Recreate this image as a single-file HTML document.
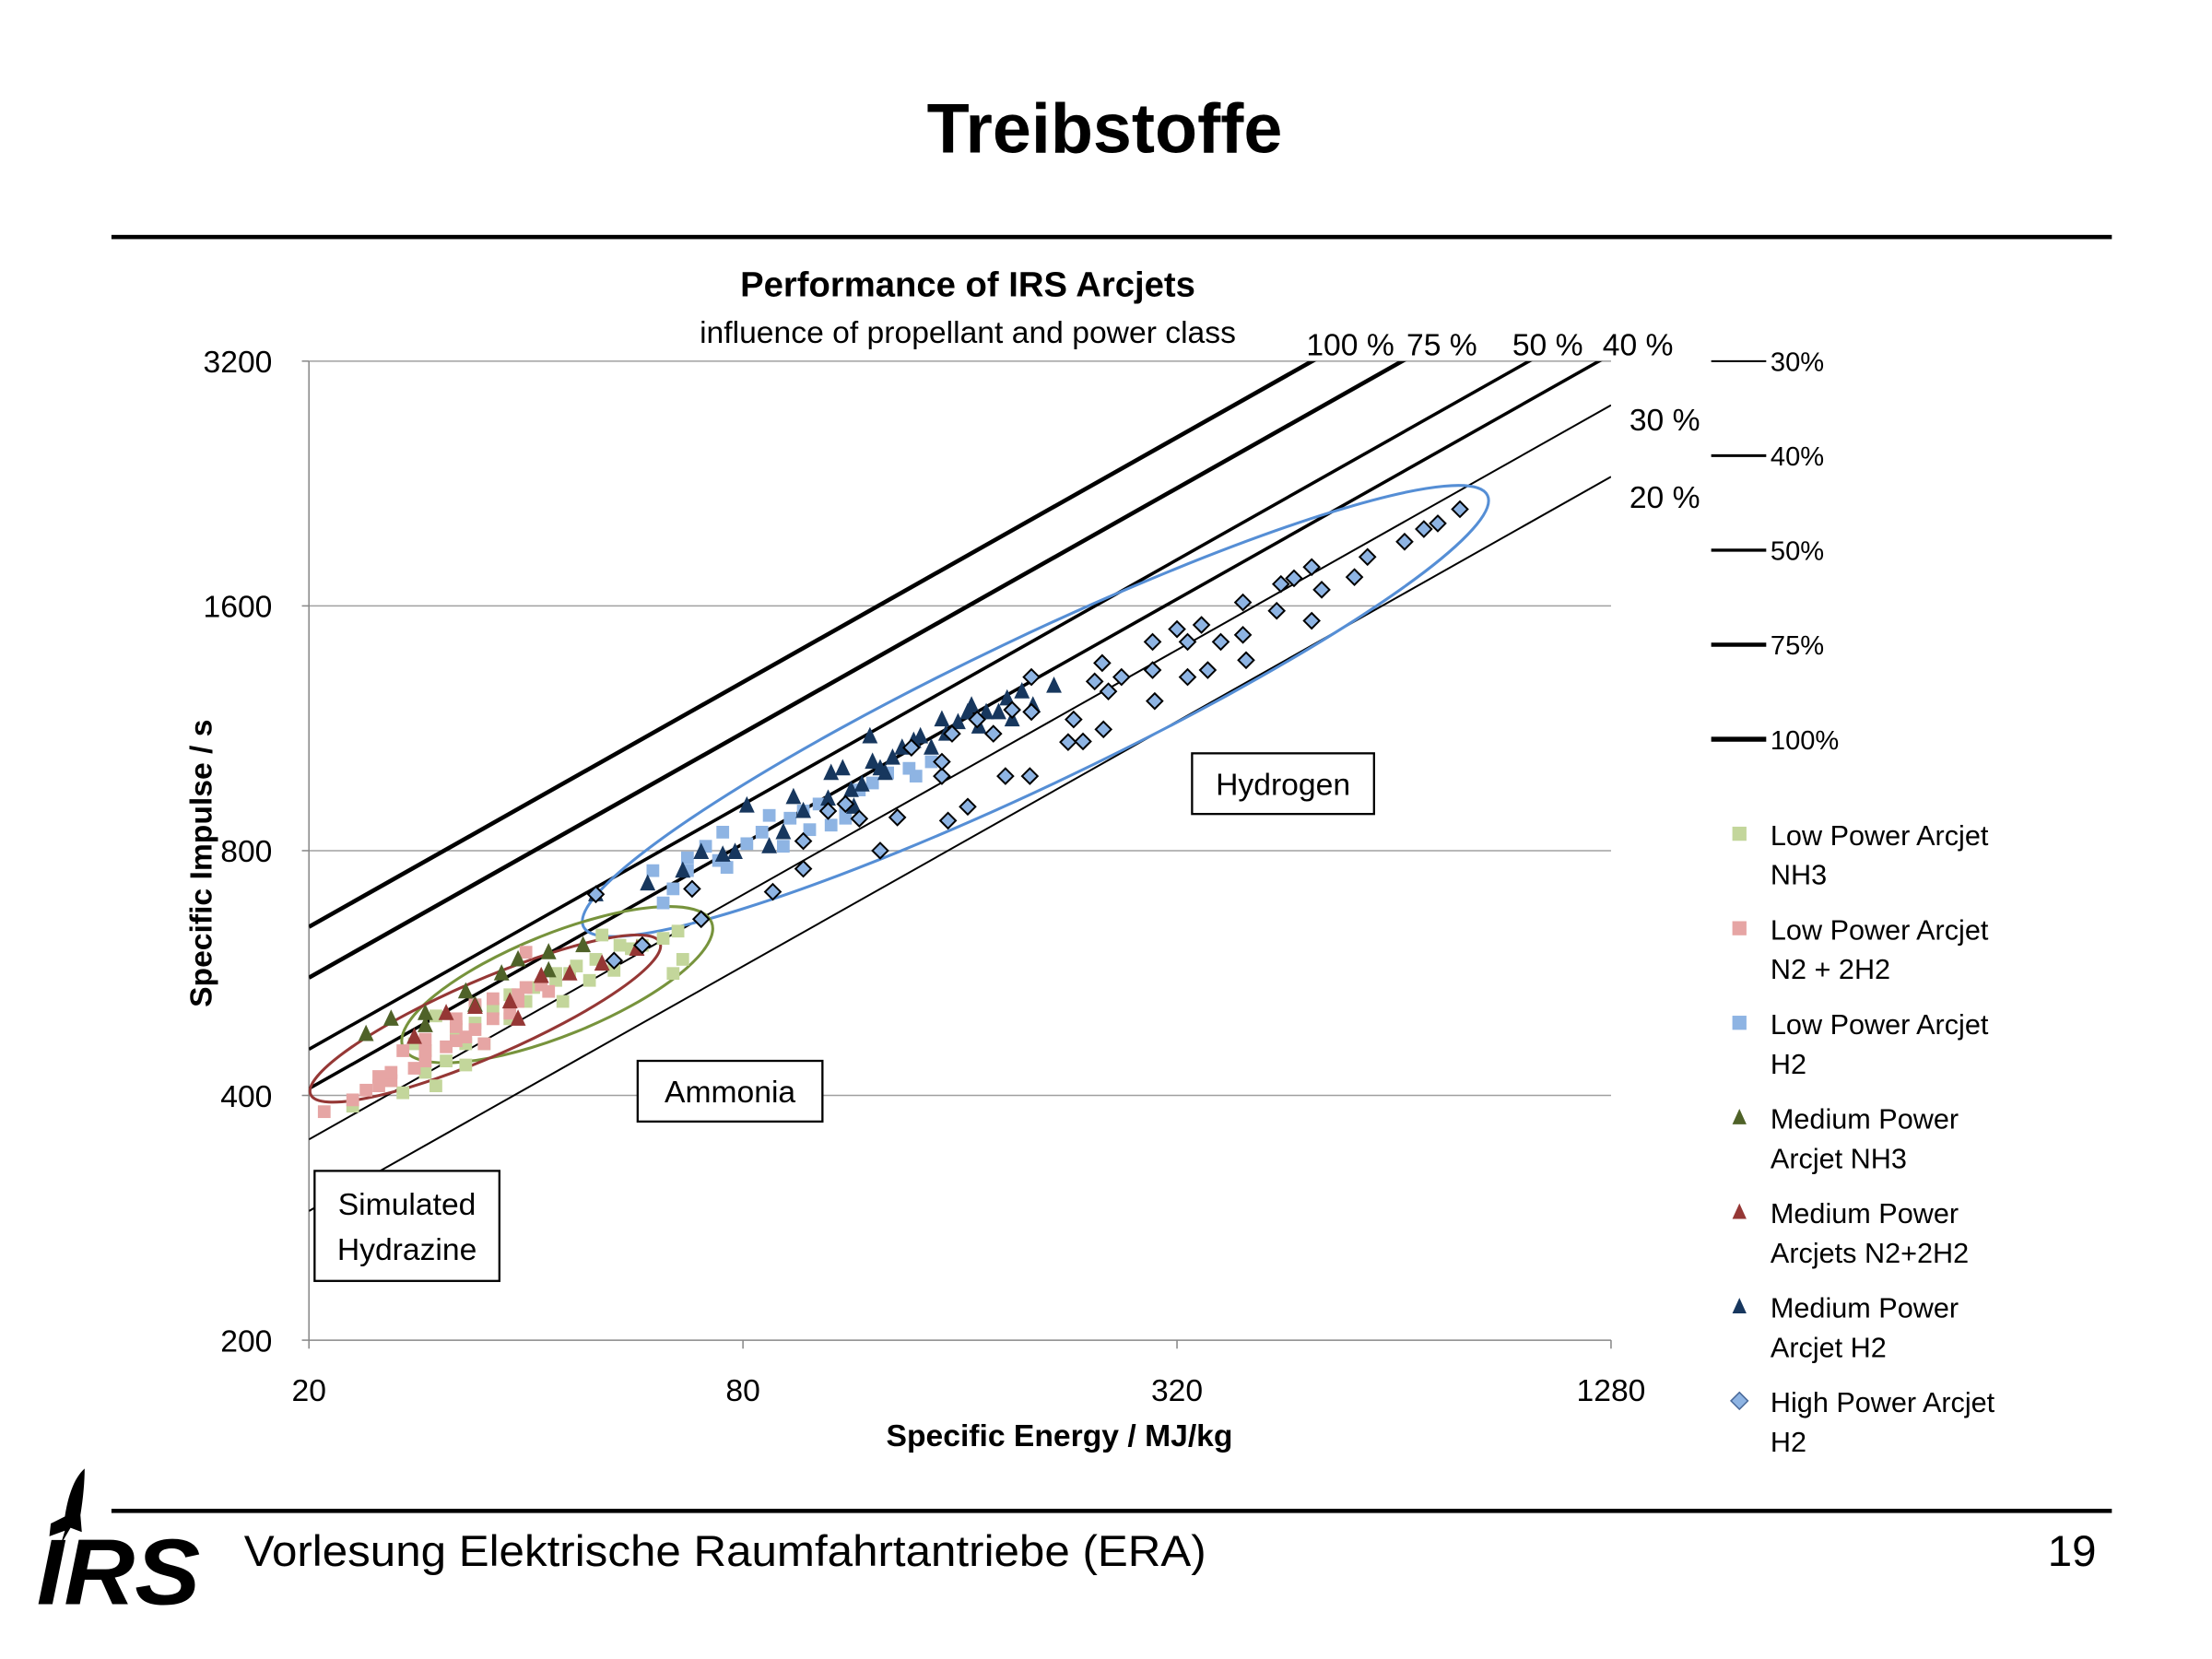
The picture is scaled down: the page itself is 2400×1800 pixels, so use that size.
<!DOCTYPE html>
<html><head><meta charset="utf-8"><style>
html,body{margin:0;padding:0;background:#fff;width:2400px;height:1800px;overflow:hidden}
svg{display:block;font-family:"Liberation Sans",sans-serif}
</style></head><body>
<svg id="root" width="2400" height="1800" viewBox="0 0 1568 1176" preserveAspectRatio="none" xmlns="http://www.w3.org/2000/svg">
<defs><clipPath id="plotclip"><rect x="219" y="256" width="923" height="694"/></clipPath></defs>
<text x="783" y="108" text-anchor="middle" font-size="50" font-weight="bold" textLength="252" lengthAdjust="spacingAndGlyphs">Treibstoffe</text>
<rect x="79" y="166.5" width="1418" height="3" fill="#000"/>
<rect x="79" y="1069.5" width="1418" height="3" fill="#000"/>
<text x="173" y="1110" font-size="31" textLength="682" lengthAdjust="spacingAndGlyphs">Vorlesung Elektrische Raumfahrtantriebe (ERA)</text>
<text x="1486" y="1110" font-size="31" text-anchor="end">19</text>
<g>
<path d="M60,1041 C52,1048 48,1062 46,1075 L36,1080 L35,1089 L46,1085 L43,1095 L50,1083 L58,1086 L57,1074 C59,1062 60,1050 60,1041 Z" fill="#000"/>
<text x="26" y="1137" font-size="66" font-weight="bold" font-style="italic" textLength="116" lengthAdjust="spacingAndGlyphs">IRS</text>
</g>
<text x="686" y="210" text-anchor="middle" font-size="25" font-weight="bold">Performance of IRS Arcjets</text>
<text x="686" y="243" text-anchor="middle" font-size="22">influence of propellant and power class</text>
<g id="chart"></g>
</svg>
<script>
const xTicks=[20,80,320,1280];
const yTicks=[200,400,800,1600,3200];
const effLevels=[1.0,0.75,0.5,0.4,0.3,0.2];
const effWidths=[3,3,2.3,2.3,1.3,1.3];
const lpNH3E=[23,27,30,29,32,33,30,34,36,38,40,41,44,45,46,47,49,50,53,54,56,58,62,64,66,65,51,44,35,33,38,31,29,28];
const lpNH3I=[388,403,411,454,482,463,501,491,511,532,522,543,554,522,565,577,554,588,570,612,606,612,624,565,588,637,630,565,463,436,497,441,427,463];
const lpN2E=[21,24,23,25,26,26,28,29,29,31,32,33,34,35,36,38,39,40,42,43,29,32,34,36,39,40,34,32,27,25];
const lpN2I=[382,406,395,422,417,427,432,441,454,459,467,472,482,463,497,505,522,543,547,537,469,486,514,526,532,600,517,497,454,411];
const lpH2E=[62,64,60,67,67,71,75,76,74,81,85,87,91,93,97,102,106,111,116,121,127,136,146,139,111,99];
const lpH2I=[690,718,756,784,756,810,843,763,778,816,843,884,810,877,895,913,860,906,950,969,997,1010,1029,988,877,849];
const mpNH3E=[24,26,29,33,37,39,43,48,43,34,29];
const mpNH3I=[476,497,505,537,565,588,600,612,570,517,488];
const mpN2E=[28,31,34,38,42,46,51,57,39];
const mpN2I=[472,505,514,522,561,565,581,606,497];
const mpH2E=[50,59,66,70,78,75,81,87,91,94,97,106,110,113,117,120,121,124,129,133,138,141,146,151,153,159,164,166,170,174,181,186,189,195,202,216,126,114,105];
const mpH2I=[707,729,756,797,797,791,909,810,843,931,895,997,1010,950,965,1106,1029,1010,1041,1071,1092,1106,1071,1160,1114,1151,1184,1207,1137,1184,1184,1231,1160,1256,1207,1276,997,906,927];
const hpH2E=[58,53,70,68,88,97,97,124,116,131,154,164,151,151,185,200,178,189,201,201,226,237,230,253,257,252,268,246,296,296,298,331,331,320,346,368,353,395,395,399,440,446,465,492,492,508,564,588,662,704,736,790,50,105,111,137,156,169];
const hpH2I=[612,586,659,718,712,760,822,800,876,879,871,906,988,1029,988,988,1114,1192,1185,1308,1088,1090,1160,1128,1256,1361,1308,1292,1445,1334,1222,1308,1445,1498,1516,1445,1334,1616,1474,1372,1578,1702,1730,1786,1534,1675,1736,1838,1919,1989,2021,2104,707,895,913,1071,1114,1160];
const legendLines=["30%","40%","50%","75%","100%"];
const legendLineW=[1.3,2,2.2,3,3.5];

const NS="http://www.w3.org/2000/svg";
const g=document.getElementById('chart');
const X0=219,X1=1142,Y0=950,Y1=256;
function xs(e){return X0+(X1-X0)*Math.log(e/20)/Math.log(64);}
function ys(v){return Y0-(Y0-Y1)*Math.log(v/200)/Math.log(16);}
function mk(tag,attrs,parent){const el=document.createElementNS(NS,tag);for(const k in attrs)el.setAttribute(k,attrs[k]);(parent||g).appendChild(el);return el;}
function txt(s,attrs,parent){const el=mk('text',attrs,parent);el.textContent=s;return el;}

yTicks.forEach((v,i)=>{
  if(i>0){const l=mk('line',{x1:X0,x2:X1,y1:ys(v),y2:ys(v),stroke:'#a0a0a0','stroke-width':1});
  
  }
  const tk=mk('line',{x1:X0-5,x2:X0,y1:ys(v),y2:ys(v),stroke:'#888','stroke-width':1});
  
  
  const t=txt(String(v),{x:193,y:ys(v)+8,'text-anchor':'end','font-size':22});
  
  
});
const ya=mk('line',{x1:X0,x2:X0,y1:Y1,y2:Y0,stroke:'#888','stroke-width':1});


const xa=mk('line',{x1:X0,x2:X1,y1:Y0,y2:Y0,stroke:'#888','stroke-width':1});


xTicks.forEach(v=>{
  const tk=mk('line',{x1:xs(v),x2:xs(v),y1:Y0,y2:Y0+6,stroke:'#888','stroke-width':1});
  
  
  const t=txt(String(v),{x:xs(v),y:993,'text-anchor':'middle','font-size':22});
  
  
});
const xt=txt('Specific Energy / MJ/kg',{x:751,y:1025,'text-anchor':'middle','font-size':22,'font-weight':'bold'});


const yt=txt('Specific Impulse / s',{x:0,y:0,'text-anchor':'middle','font-size':22,'font-weight':'bold',transform:'translate(150,612) rotate(-90)'});



const eg=mk('g',{'clip-path':'url(#plotclip)'});
effLevels.forEach((eta,i)=>{
  const isp=e=>Math.sqrt(2*eta*e*1e6)/9.81;
  const l=mk('line',{x1:xs(20),y1:ys(isp(20)),x2:xs(1280),y2:ys(isp(1280)),stroke:'#000','stroke-width':effWidths[i]},eg);
  
  
});
[['100 %',926,252],['75 %',997,252],['50 %',1072,252],['40 %',1136,252],['30 %',1155,305],['20 %',1155,360]].forEach(a=>{
  const t=txt(a[0],{x:a[1],y:a[2],'font-size':22});
  
  
});

function ell(cx,cy,rx,ry,ang,col,name){
  const e=mk('ellipse',{cx:cx,cy:cy,rx:rx,ry:ry,transform:`rotate(${ang} ${cx} ${cy})`,fill:'none',stroke:col,'stroke-width':2});
  
  
}
ell(734,504,355,52,-25.5,'#558ED5','hydrogen-ellipse');
ell(395,698,118,36,-22,'#77933C','ammonia-ellipse');
ell(344,722,135,27,-23.5,'#953735','n2h2-ellipse');

function sq(E,I,col,name,s){E.forEach((e,i)=>{const r=mk('rect',{x:xs(e)-s/2,y:ys(I[i])-s/2,width:s,height:s,fill:col});
  
  });}
function tri(E,I,col,name,s){E.forEach((e,i)=>{const x=xs(e),y=ys(I[i]);const p=mk('polygon',{points:`${x},${y-s*0.6} ${x-s/2},${y+s*0.45} ${x+s/2},${y+s*0.45}`,fill:col});
  
  });}
function dia(E,I,name,s){E.forEach((e,i)=>{const x=xs(e),y=ys(I[i]);const p=mk('polygon',{points:`${x},${y-s} ${x+s},${y} ${x},${y+s} ${x-s},${y}`,fill:'#8EB4E3',stroke:'#000','stroke-width':1.3});
  
  });}
sq(lpNH3E,lpNH3I,'#C3D69B','low-power-nh3-point',9);
sq(lpN2E,lpN2I,'#E6A5A4','low-power-n2h2-point',9);
sq(lpH2E,lpH2I,'#8EB4E3','low-power-h2-point',9);
tri(mpNH3E,mpNH3I,'#4F6228','medium-power-nh3-point',11);
tri(mpN2E,mpN2I,'#953735','medium-power-n2h2-point',11);
tri(mpH2E,mpH2I,'#17375E','medium-power-h2-point',11);
dia(hpH2E,hpH2I,'high-power-h2-point',5.5);

function box(x,y,w,h,lines,name){const r=mk('rect',{x:x,y:y,width:w,height:h,fill:'#fff',stroke:'#000','stroke-width':1.5});
  
  
  lines.forEach((s,i)=>{const t=txt(s,{x:x+w/2,y:y+h/2+8+(i-(lines.length-1)/2)*32,'text-anchor':'middle','font-size':22});
  
  });}
box(845,534,129,43,['Hydrogen'],'hydrogen-box');
box(452,752,131,43,['Ammonia'],'ammonia-box');
box(223,830,131,78,['Simulated','Hydrazine'],'hydrazine-box');

legendLines.forEach((s,i)=>{const y=256+i*67;
  const l=mk('line',{x1:1213,x2:1252,y1:y,y2:y,stroke:'#000','stroke-width':legendLineW[i]});
  
  
  const t=txt(s,{x:1255,y:y+7,'font-size':19});
  
  });
const leg=[['sq','#C3D69B','Low Power Arcjet','NH3'],['sq','#E6A5A4','Low Power Arcjet','N2 + 2H2'],['sq','#8EB4E3','Low Power Arcjet','H2'],['tri','#4F6228','Medium Power','Arcjet NH3'],['tri','#953735','Medium Power','Arcjets N2+2H2'],['tri','#17375E','Medium Power','Arcjet H2'],['dia','#8EB4E3','High Power Arcjet','H2']];
leg.forEach((a,i)=>{const y=591+i*67,x=1233;let m;
  if(a[0]=='sq')m=mk('rect',{x:x-5,y:y-5,width:10,height:10,fill:a[1]});
  else if(a[0]=='tri')m=mk('polygon',{points:`${x},${y-6} ${x-5},${y+5} ${x+5},${y+5}`,fill:a[1]});
  else m=mk('polygon',{points:`${x},${y-6} ${x+6},${y} ${x},${y+6} ${x-6},${y}`,fill:a[1],stroke:'#4a6a9a','stroke-width':1});
  
  
  const t1=txt(a[2],{x:1255,y:y+8,'font-size':20});
  
  
  const t2=txt(a[3],{x:1255,y:y+36,'font-size':20});
  
  });
</script>
</body></html>
